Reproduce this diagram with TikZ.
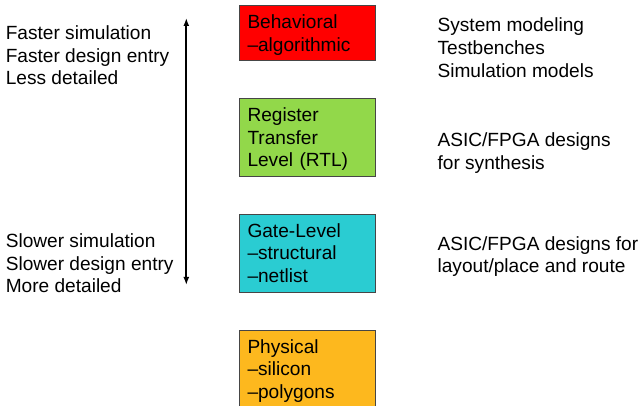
\documentclass[tikz,border=0pt]{standalone}
\usepackage{fontspec}
\setmainfont{Liberation Sans}
\usetikzlibrary{arrows.meta}
\definecolor{behav}{RGB}{255,0,0}
\definecolor{rtl}{RGB}{146,216,74}
\definecolor{gate}{RGB}{42,204,210}
\definecolor{phys}{RGB}{253,184,30}
\definecolor{edge}{RGB}{70,70,70}
\begin{document}
\begin{tikzpicture}[x=1pt,y=-1pt,
  font=\fontsize{19.1}{22.7}\selectfont,
  level/.style={draw=edge, line width=0.8pt, anchor=north west, text width=120pt,
    inner xsep=8.2pt, align=left, outer sep=0pt},
  note/.style={anchor=north west, inner sep=0pt, align=left}]
\clip (0,0) rectangle (641,406);

\node [level, fill=behav, minimum height=55.7pt] (behav) at (239.3,5) {Behavioral\\\smash{–algorithmic}};
\node [level, fill=rtl, minimum height=77.7pt] (rtl) at (239.3,98.3) {Register\\Transfer\\\smash{Level (RTL)}};
\node [level, fill=gate, minimum height=78pt] (gate) at (239.3,214) {Gate-Level\\–structural\\\smash{–netlist}};
\node [level, fill=phys, minimum height=78pt] (phys) at (239.3,330) {Physical\\–silicon\\\smash{–polygons}};

\node [note] (fast) at (5.6,25.4) {Faster simulation\\Faster design entry\\Less detailed};
\node [note] (slow) at (5.6,233.4) {Slower simulation\\Slower design entry\\More detailed};

\node [note] (usebehav) at (437.4,17.8) {System modeling\\Testbenches\\Simulation models};
\node [note] (usertl) at (437.4,132.8) {ASIC/FPGA designs\\for synthesis};
\node [note] (usegate) at (437.4,236.1) {ASIC/FPGA designs for\\layout/place and route};

\coordinate (up) at (186.3,18);
\coordinate (down) at (186.3,285);
\draw [line width=1.8pt,{Latex[length=8pt,width=6pt]}-{Latex[length=8pt,width=6pt]}] (up) -- (down);
\end{tikzpicture}
\end{document}
